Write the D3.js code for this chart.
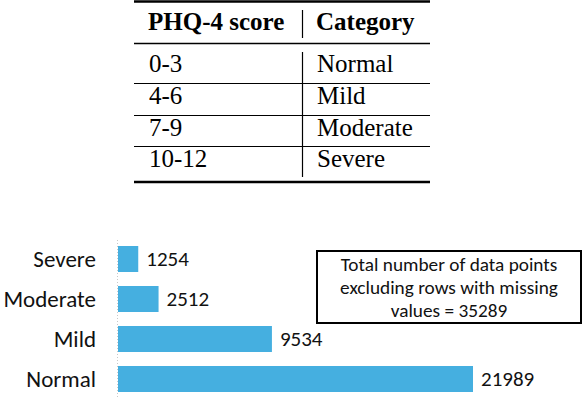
<!DOCTYPE html>
<html>
<head>
<meta charset="utf-8">
<script src="https://cdn.jsdelivr.net/npm/d3@7"></script>
<style>
  body { margin: 0; background: #fff; }
</style>
</head>
<body>
<div id="chart"></div>
<script>
// table contents
var scoreRanges = ["0-3", "4-6", "7-9", "10-12"];
var tableCategories = ["Normal", "Mild", "Moderate", "Severe"];
var tableHeaders = ["PHQ-4 score", "Category"];

// bar chart data
var categories = ["Severe", "Moderate", "Mild", "Normal"];
var counts = [1254, 2512, 9534, 21989];
var boxLines = ["Total number of data points", "excluding rows with missing", "values = "];

var width = 582, height = 400;
var serif = "\"Liberation Serif\", \"Times New Roman\", serif";
var sans = "Carlito, Lato, sans-serif";

var svg = d3.select("#chart")
    .append("svg")
    .attr("width", width)
    .attr("height", height);

// ---- table ----
var tLeft = 134, tRight = 430, colX = 302.5;
var tbl = svg.append("g");

tbl.append("line")
    .attr("x1", tLeft).attr("x2", tRight)
    .attr("y1", 1.5).attr("y2", 1.5)
    .attr("stroke", "#000").attr("stroke-width", 2.5);

tbl.append("line")
    .attr("x1", tLeft).attr("x2", tRight)
    .attr("y1", 43.5).attr("y2", 43.5)
    .attr("stroke", "#000").attr("stroke-width", 1.3);

tbl.append("line")
    .attr("x1", tLeft).attr("x2", tRight)
    .attr("y1", 182).attr("y2", 182)
    .attr("stroke", "#000").attr("stroke-width", 2.5);

tbl.append("line")
    .attr("x1", colX).attr("x2", colX)
    .attr("y1", 10).attr("y2", 38)
    .attr("stroke", "#000").attr("stroke-width", 1.2);

tbl.append("line")
    .attr("x1", colX).attr("x2", colX)
    .attr("y1", 52).attr("y2", 177)
    .attr("stroke", "#000").attr("stroke-width", 1.2);

tbl.selectAll(".hdr")
    .data(tableHeaders)
    .enter()
    .append("text")
    .attr("x", function (d, i) { return i === 0 ? 148 : 316; })
    .attr("y", 30)
    .style("font-family", serif)
    .style("font-weight", "bold")
    .style("font-size", "25px")
    .text(function (d) { return d; });

var rowY = d3.scaleBand()
    .domain(scoreRanges)
    .range([51, 178]);

tbl.selectAll(".sep")
    .data(scoreRanges.slice(1))
    .enter()
    .append("line")
    .attr("x1", tLeft).attr("x2", tRight)
    .attr("y1", function (d) { return Math.round(rowY(d)) + 0.5; })
    .attr("y2", function (d) { return Math.round(rowY(d)) + 0.5; })
    .attr("stroke", "#000").attr("stroke-width", 1);

var rows = tbl.selectAll(".row")
    .data(scoreRanges)
    .enter()
    .append("g");

rows.append("text")
    .attr("x", 149)
    .attr("y", function (d) { return rowY(d) + 21; })
    .style("font-family", serif)
    .style("font-size", "25px")
    .text(function (d) { return d; });

rows.append("text")
    .attr("x", 317)
    .attr("y", function (d) { return rowY(d) + 21; })
    .style("font-family", serif)
    .style("font-size", "25px")
    .text(function (d, i) { return tableCategories[i]; });

// ---- bar chart ----
var x = d3.scaleLinear()
    .domain([0, d3.max(counts)])
    .range([118, 473]);

var y = d3.scaleBand()
    .domain(categories)
    .range([239, 399])
    .paddingInner(0.35)
    .paddingOuter(0.175);

svg.append("line")
    .attr("x1", 117.5).attr("x2", 117.5)
    .attr("y1", 240).attr("y2", 398)
    .attr("stroke", "#c8c8c8")
    .attr("stroke-dasharray", "1,2");

svg.selectAll(".bar")
    .data(categories)
    .enter()
    .append("rect")
    .attr("x", x(0))
    .attr("y", function (d) { return y(d); })
    .attr("width", function (d, i) { return x(counts[i]) - x(0); })
    .attr("height", y.bandwidth())
    .attr("fill", "#45afe0");

svg.selectAll(".cat")
    .data(categories)
    .enter()
    .append("text")
    .attr("x", 96)
    .attr("y", function (d) { return y(d) + y.bandwidth() / 2; })
    .attr("dy", "0.35em")
    .attr("text-anchor", "end")
    .style("font-family", sans)
    .style("font-size", "23px")
    .attr("fill", "#111")
    .text(function (d) { return d; });

svg.selectAll(".val")
    .data(categories)
    .enter()
    .append("text")
    .attr("x", function (d, i) { return x(counts[i]) + 8; })
    .attr("y", function (d) { return y(d) + y.bandwidth() / 2; })
    .attr("dy", "0.35em")
    .style("font-family", sans)
    .style("font-size", "21px")
    .attr("fill", "#111")
    .text(function (d, i) { return counts[i]; });

// total box
var total = d3.sum(counts);
svg.append("rect")
    .attr("x", 317).attr("y", 251)
    .attr("width", 264).attr("height", 72)
    .attr("fill", "#fff")
    .attr("stroke", "#000")
    .attr("stroke-width", 2);

svg.selectAll(".box")
    .data(boxLines)
    .enter()
    .append("text")
    .attr("x", 449)
    .attr("y", function (d, i) { return 264 + i * 23; })
    .attr("dy", "0.35em")
    .attr("text-anchor", "middle")
    .style("font-family", sans)
    .style("font-size", "19.3px")
    .attr("fill", "#111")
    .text(function (d, i) { return i === boxLines.length - 1 ? d + total : d; });
</script>
</body>
</html>
